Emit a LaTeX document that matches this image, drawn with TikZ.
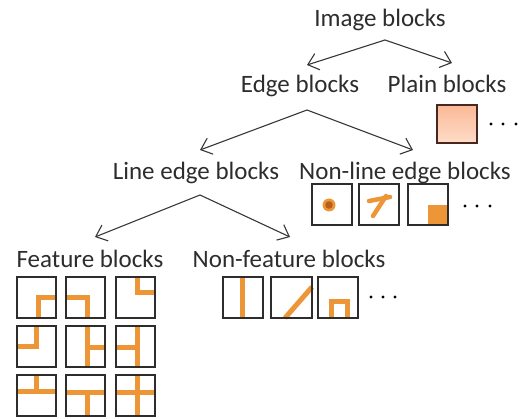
\documentclass[tikz,border=0pt]{standalone}
\usepackage{fontspec}
\setmainfont{Carlito}
\usetikzlibrary{arrows.meta}
\definecolor{ink}{RGB}{45,45,45}
\definecolor{arrcol}{RGB}{55,55,55}
\definecolor{orng}{RGB}{236,150,55}
\definecolor{dorng}{RGB}{185,95,30}
\definecolor{peachA}{RGB}{250,185,150}
\definecolor{peachB}{RGB}{255,220,200}
\definecolor{brownb}{RGB}{70,40,30}
\tikzset{
  lbl/.style={anchor=base, inner sep=0pt, text=ink, font=\fontsize{25}{30}\selectfont},
  arr/.style={draw=arrcol, line width=1.1pt, -{Straight Barb[length=10pt,width=17pt,line width=1.1pt]}},
  blk/.style={draw=ink, line width=1.5pt},
  feat/.style={draw=orng, line width=5pt, line cap=butt, line join=miter},
  dotm/.style={fill=black, draw=none}
}
\begin{document}
\begin{tikzpicture}[x=1pt,y=-1pt]
\useasboundingbox (0,0) rectangle (522,419);
% text nodes
\node[lbl] (img) at (380,27) {Image blocks};
\node[lbl] (edge) at (300,93) {Edge blocks};
\node[lbl] (plain) at (447,93) {Plain blocks};
\node[lbl] (line) at (196,180) {Line edge blocks};
\node[lbl] (nonline) at (405,180) {Non-line edge blocks};
\node[lbl] (feat) at (90,268) {Feature blocks};
\node[lbl] (nonfeat) at (289,268) {Non-feature blocks};
% arrow points
\coordinate (a1) at (385,40);
\coordinate (t1l) at (307,65);
\coordinate (t1r) at (452,63);
\coordinate (a2) at (307,110);
\coordinate (t2l) at (200,150);
\coordinate (t2r) at (413,150);
\coordinate (a3) at (200,195);
\coordinate (t3l) at (95,237);
\coordinate (t3r) at (290,237);
\draw[arr] (a1) -- (t1l);
\draw[arr] (a1) -- (t1r);
\draw[arr] (a2) -- (t2l);
\draw[arr] (a2) -- (t2r);
\draw[arr] (a3) -- (t3l);
\draw[arr] (a3) -- (t3r);
% plain block
\shade[top color=peachA, bottom color=peachB] (437,105) rectangle (477,143);
\node[draw=brownb, line width=1.5pt, minimum width=40pt, minimum height=38pt, inner sep=0pt] (pb) at (457,124) {};
\foreach \x in {491,503,516} \fill[dotm] (\x,124) circle (1.6);
% non-line edge blocks
\fill[orng] (329,205) circle (6.5);
\fill[dorng] (329,205) circle (3.8);
\draw[orng, line width=4.5pt, line cap=round] (373,216) -- (386,196);
\draw[orng, line width=4.5pt, line cap=round] (369,201) -- (390,197);
\fill[orng] (428,205) rectangle (448,225);
\foreach \x in {312,359,408} \draw[blk] (\x,184) rectangle ++(40,41);
\foreach \x in {465,477,490} \fill[dotm] (\x,206) circle (1.6);
% feature blocks lines
\draw[feat] (38,318) -- (38,298) -- (56,298);
\draw[feat] (66,298) -- (87,298) -- (87,318);
\draw[feat] (137,277) -- (137,293) -- (155,293);
\draw[feat] (36,326) -- (36,347) -- (17,347);
\draw[feat] (87,326) -- (87,367);
\draw[feat] (87,348) -- (105,348);
\draw[feat] (116,348) -- (137,348);
\draw[feat] (137,326) -- (137,367);
\draw[feat] (17,392) -- (56,392);
\draw[feat] (36,375) -- (36,392);
\draw[feat] (66,393) -- (105,393);
\draw[feat] (87,393) -- (87,416);
\draw[feat] (116,393) -- (155,393);
\draw[feat] (137,375) -- (137,416);
\foreach \x in {17,66,116} \foreach \y in {277,326,375} \draw[blk] (\x,\y) rectangle ++(39,41);
% non-feature blocks
\draw[feat] (242,277) -- (242,318);
\draw[feat] (285,318) -- (312,287);
\draw[feat] (331,318) -- (331,302) -- (347,302) -- (347,318);
\draw[blk] (223,277) rectangle (263,318);
\draw[blk] (271,277) rectangle (312,318);
\draw[blk] (318,277) rectangle (358,318);
\foreach \x in {371,383,395} \fill[dotm] (\x,297) circle (1.6);
\end{tikzpicture}
\end{document}
